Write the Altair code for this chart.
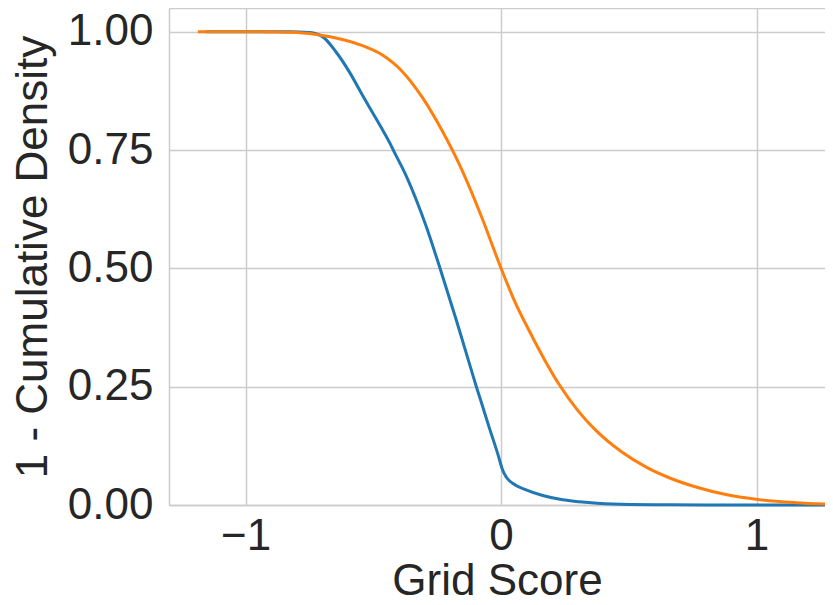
import altair as alt
import pandas as pd

# Series 1 (blue)
blue_x = [-1.155, -0.95, -0.829, -0.75, -0.698, -0.646, -0.594, -0.542, -0.489, -0.437,
          -0.411, -0.372, -0.333, -0.294, -0.239, -0.176, -0.117, -0.098, -0.078, -0.046,
          -0.013, 0.006, 0.020, 0.045, 0.098, 0.163, 0.241, 0.306, 0.436, 0.6, 0.8, 1.0, 1.27]
blue_y = [1.0, 1.0, 1.0, 0.998, 0.989, 0.957, 0.915, 0.865, 0.816, 0.766,
          0.738, 0.696, 0.646, 0.59, 0.50, 0.392, 0.286, 0.252, 0.218, 0.163,
          0.108, 0.074, 0.059, 0.046, 0.032, 0.020, 0.011, 0.007, 0.002, 0.0005, 0.0001, 0.0, 0.0]

# Series 2 (orange)
orange_x = [-1.187, -0.95, -0.8, -0.698, -0.567, -0.463, -0.385, -0.307, -0.229, -0.150,
            -0.075, 0.0, 0.055, 0.111, 0.17, 0.228, 0.30, 0.372, 0.47, 0.568,
            0.665, 0.763, 0.88, 0.998, 1.155, 1.27]
orange_y = [1.0, 1.0, 0.998, 0.992, 0.975, 0.950, 0.915, 0.860, 0.789, 0.704,
            0.607, 0.5, 0.428, 0.367, 0.307, 0.254, 0.200, 0.157, 0.113, 0.080,
            0.056, 0.038, 0.022, 0.012, 0.005, 0.002]

series_names = ["A", "B"]
colors = ["#1f77b4", "#ff7f0e"]

x_ticks = [-1, 0, 1]
y_ticks = [0, 0.25, 0.5, 0.75, 1.0]
y_top = 1.05

df = pd.concat([
    pd.DataFrame({"x": blue_x, "y": blue_y, "s": series_names[0], "o": range(len(blue_x))}),
    pd.DataFrame({"x": orange_x, "y": orange_y, "s": series_names[1], "o": range(len(orange_x))}),
])

FONT = "Liberation Sans"
TXT = "#262626"
GRID = "#cccccc"

chart = alt.Chart(df).mark_line(strokeWidth=3, interpolate="monotone").encode(
    x=alt.X("x:Q", scale=alt.Scale(domain=[-1.3, 1.268], nice=False, zero=False),
            axis=alt.Axis(title="Grid Score", values=x_ticks, format="d",
                          labelPadding=9, titlePadding=1)),
    y=alt.Y("y:Q", scale=alt.Scale(domain=[0, y_top], nice=False),
            axis=alt.Axis(title="1 - Cumulative Density", values=y_ticks + [y_top],
                          labelExpr="datum.value > 1.01 ? '' : format(datum.value, '.2f')",
                          labelPadding=16, titlePadding=12)),
    color=alt.Color("s:N", scale=alt.Scale(domain=series_names, range=colors), legend=None),
    order="o:Q",
).properties(
    width=656, height=497,
    autosize=alt.AutoSizeParams(type="none"),
    padding={"left": 161, "top": 0, "right": 0, "bottom": 91},
).configure_view(
    stroke=None
).configure_axis(
    labelFont=FONT, titleFont=FONT, labelFontSize=44, titleFontSize=44,
    labelColor=TXT, titleColor=TXT, titleFontWeight="normal",
    ticks=False, tickSize=0, domain=True, domainColor=GRID, domainWidth=1.5,
    gridColor=GRID, gridWidth=1.5, labelFlush=False,
)

chart.save("out.html", embed_options={"renderer": "svg", "actions": False})
